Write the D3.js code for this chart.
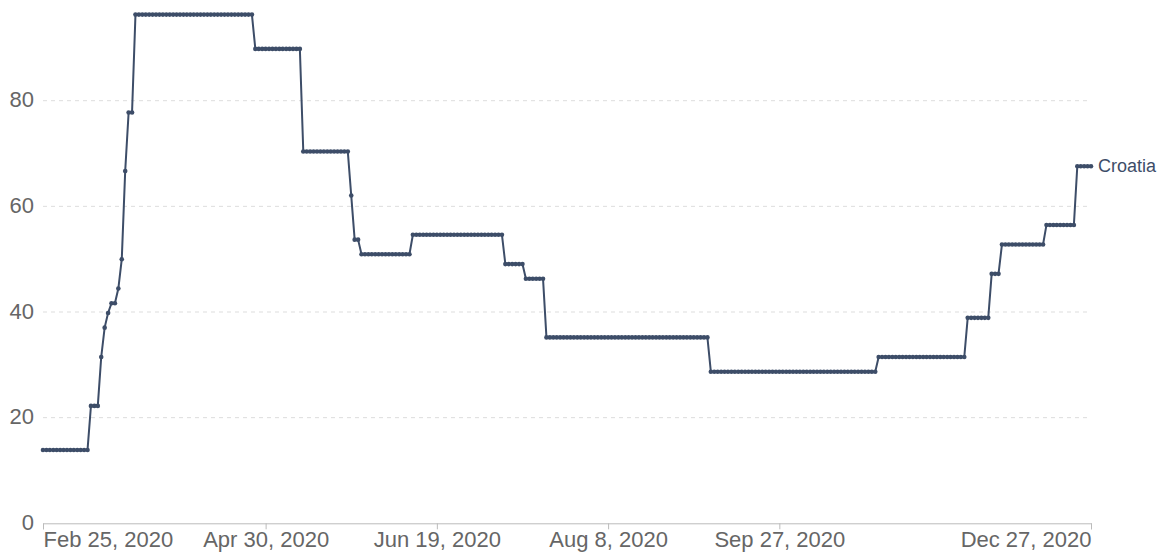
<!DOCTYPE html>
<html>
<head>
<meta charset="utf-8">
<script src="https://cdn.jsdelivr.net/npm/d3@7"></script>
<style>
	body { margin: 0; background: #fff; }
	text { font-family: "Liberation Sans", Arial, sans-serif; }
	.grid line { stroke: #dddddd; stroke-dasharray: 4,4; }
	.x.axis path, .x.axis line { stroke: #bbbbbb; }
	.axis text { fill: #666666; font-size: 22px; }
</style>
</head>
<body>
<div id="chart"></div>
<script>
// stringency index for Croatia: date each level starts on, and the level
var changeDates = ['2020-02-25', '2020-03-10', '2020-03-13', '2020-03-14', '2020-03-15',
	'2020-03-16', '2020-03-18', '2020-03-19', '2020-03-20', '2020-03-21', '2020-03-23',
	'2020-04-27', '2020-05-11', '2020-05-25', '2020-05-26', '2020-05-28', '2020-06-12',
	'2020-07-09', '2020-07-15', '2020-07-21', '2020-09-07', '2020-10-26', '2020-11-21',
	'2020-11-28', '2020-12-01', '2020-12-14', '2020-12-23'];
var indexValues = [13.89, 22.22, 31.48, 37.04, 39.81,
	41.67, 44.44, 50.00, 66.67, 77.78, 96.30,
	89.81, 70.37, 62.04, 53.70, 50.93, 54.63,
	49.07, 46.30, 35.19, 28.70, 31.48, 38.89,
	47.22, 52.78, 56.48, 67.59];
var lastDate = '2020-12-27';
var countryName = 'Croatia';

var xTickDates = ['2020-02-25', '2020-04-30', '2020-06-19', '2020-08-08', '2020-09-27', '2020-12-27'];
var yTicks = [0, 20, 40, 60, 80];

var parse = d3.utcParse('%Y-%m-%d');
var fmt = d3.utcFormat('%b %-d, %Y');

// one point per day, holding the level until the next change
var points = [];
var end = parse(lastDate);
changeDates.forEach(function (s, i) {
	var from = parse(s);
	var to = i < changeDates.length - 1 ? parse(changeDates[i + 1]) : d3.utcDay.offset(end, 1);
	d3.utcDays(from, to).forEach(function (d) {
		points.push({ date: d, value: indexValues[i] });
	});
});

var width = 1162;
var height = 553;
var color = '#3d4d68';

var svg = d3.select('#chart').append('svg')
	.attr('width', width)
	.attr('height', height);

var xScale = d3.scaleUtc()
	.domain([parse(changeDates[0]), end])
	.range([43, 1091]);
var yScale = d3.scaleLinear()
	.domain([0, 100])
	.range([523.3, -4.95]);

// dashed gridlines
svg.append('g')
	.attr('class', 'grid')
	.selectAll('line')
	.data(yTicks.filter(function (t) { return t > 0; }))
	.enter().append('line')
	.attr('x1', xScale.range()[0])
	.attr('x2', xScale.range()[1])
	.attr('y1', function (d) { return yScale(d); })
	.attr('y2', function (d) { return yScale(d); });

var yAxis = d3.axisLeft(yScale)
	.tickValues(yTicks)
	.tickSize(0)
	.tickPadding(9);
svg.append('g')
	.attr('class', 'y axis')
	.attr('transform', 'translate(43,0)')
	.call(yAxis)
	.call(function (g) { g.select('.domain').remove(); })
	.selectAll('text')
	.attr('dy', '0.28em');

var xAxis = d3.axisBottom(xScale)
	.tickValues(xTickDates.map(parse))
	.tickFormat(fmt)
	.tickSizeOuter(0)
	.tickSize(6)
	.tickPadding(2);
svg.append('g')
	.attr('class', 'x axis')
	.attr('transform', 'translate(0,523.3)')
	.call(xAxis)
	.selectAll('text')
	.attr('y', 24)
	.attr('dy', 0)
	.attr('text-anchor', function (d, i) {
		return i == 0 ? 'start' : (i == xTickDates.length - 1 ? 'end' : 'middle');
	});

var line = d3.line()
	.x(function (d) { return xScale(d.date); })
	.y(function (d) { return yScale(d.value); });

svg.append('path')
	.datum(points)
	.attr('fill', 'none')
	.attr('stroke', color)
	.attr('stroke-width', 2)
	.attr('d', line);

svg.append('g')
	.selectAll('circle')
	.data(points)
	.enter().append('circle')
	.attr('cx', function (d) { return xScale(d.date); })
	.attr('cy', function (d) { return yScale(d.value); })
	.attr('r', 2.3)
	.attr('fill', color);

var last = points[points.length - 1];
svg.append('text')
	.attr('x', xScale(last.date) + 7)
	.attr('y', yScale(last.value))
	.attr('dy', '0.3em')
	.attr('fill', color)
	.style('font-size', '18px')
	.text(countryName);
</script>
</body>
</html>
